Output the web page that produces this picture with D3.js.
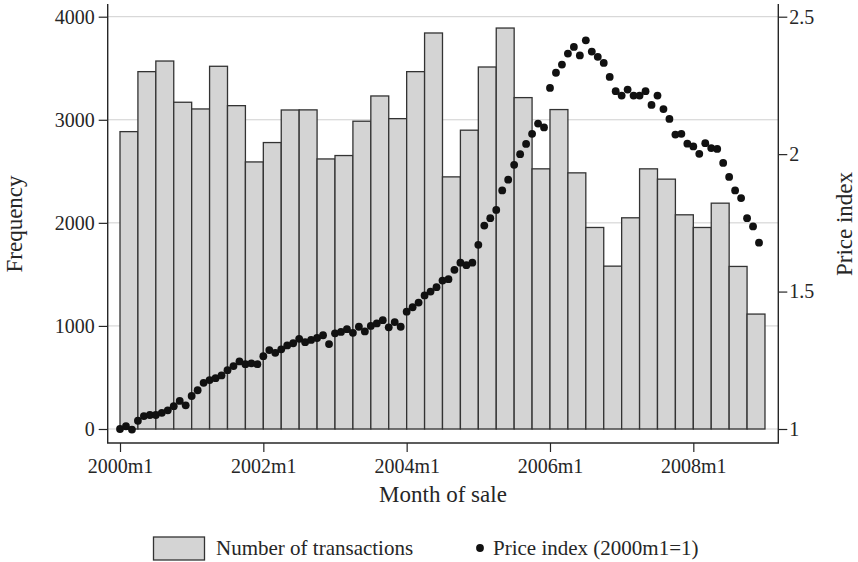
<!DOCTYPE html>
<html>
<head>
<meta charset="utf-8">
<script src="https://cdnjs.cloudflare.com/ajax/libs/d3/7.8.5/d3.min.js"></script>
<style>
  html, body { margin: 0; padding: 0; background: #fff; }
  svg { display: block; font-family: "Liberation Serif", "DejaVu Serif", serif; }
</style>
</head>
<body>
<svg id="chart" width="858" height="562"></svg>
<script>
// ---- Data ----
const quarters = [
  "2000q1","2000q2","2000q3","2000q4","2001q1","2001q2","2001q3","2001q4",
  "2002q1","2002q2","2002q3","2002q4","2003q1","2003q2","2003q3","2003q4",
  "2004q1","2004q2","2004q3","2004q4","2005q1","2005q2","2005q3","2005q4",
  "2006q1","2006q2","2006q3","2006q4","2007q1","2007q2","2007q3","2007q4",
  "2008q1","2008q2","2008q3","2008q4"
];
const transactions = [
  2885, 3467, 3570, 3170, 3105, 3519, 3137, 2591,
  2779, 3095, 3096, 2620, 2653, 2986, 3231, 3011,
  3467, 3842, 2446, 2899, 3512, 3890, 3215, 2524,
  3099, 2485, 1955, 1580, 2049, 2524, 2424, 2078,
  1955, 2191, 1577, 1115
];
// monthly price index, 2000m1 .. 2008m12
const priceIndex = [
  1.000, 1.010, 0.998, 1.030, 1.047, 1.051, 1.051, 1.059, 1.068, 1.083, 1.102, 1.086,
  1.120, 1.141, 1.168, 1.178, 1.185, 1.195, 1.214, 1.229, 1.246, 1.236, 1.239, 1.236,
  1.265, 1.287, 1.277, 1.290, 1.304, 1.312, 1.328, 1.316, 1.324, 1.331, 1.341, 1.309,
  1.348, 1.353, 1.363, 1.350, 1.372, 1.355, 1.375, 1.384, 1.396, 1.370, 1.389, 1.372,
  1.427, 1.443, 1.460, 1.486, 1.500, 1.516, 1.540, 1.545, 1.579, 1.605, 1.596, 1.605,
  1.670, 1.740, 1.767, 1.797, 1.868, 1.907, 1.961, 2.000, 2.037, 2.074, 2.111, 2.097,
  2.241, 2.296, 2.326, 2.366, 2.390, 2.359, 2.414, 2.373, 2.354, 2.332, 2.281, 2.229,
  2.213, 2.235, 2.213, 2.213, 2.229, 2.179, 2.213, 2.164, 2.128, 2.071, 2.074, 2.038,
  2.028, 2.001, 2.040, 2.022, 2.019, 1.968, 1.917, 1.868, 1.840, 1.767, 1.737, 1.678
];
const xTickMonths = [0, 24, 48, 72, 96];
const xTickLabels = ["2000m1", "2002m1", "2004m1", "2006m1", "2008m1"];
const leftTicks = [0, 1000, 2000, 3000, 4000];
const rightTicks = [1, 1.5, 2, 2.5];
const rightTickLabels = ["1", "1.5", "2", "2.5"];

// ---- Layout ----
const svg = d3.select("#chart");
const plotLeft = 107.7, plotRight = 778.3, plotTop = 4, plotBottom = 443;
const x = d3.scaleLinear().domain([-2.06, 110.23]).range([plotLeft, plotRight]);
const yL = d3.scaleLinear().domain([0, 4000]).range([429, 16.7]);
const yR = d3.scaleLinear().domain([1, 2.5]).range([429, 16.7]);

const ink = "#262626";
const barFill = "#d4d4d4";
const gridCol = "#cfcfcf";

// gridlines
svg.append("g").selectAll("line").data(leftTicks).join("line")
  .attr("x1", plotLeft).attr("x2", plotRight)
  .attr("y1", d => yL(d)).attr("y2", d => yL(d))
  .attr("stroke", gridCol).attr("stroke-width", 1);

// bars
svg.append("g").selectAll("rect").data(transactions).join("rect")
  .attr("x", (d, i) => x(3 * i))
  .attr("width", (d, i) => x(3 * i + 3) - x(3 * i))
  .attr("y", d => yL(d))
  .attr("height", d => yL(0) - yL(d))
  .attr("fill", barFill)
  .attr("stroke", "#333")
  .attr("stroke-width", 1.3);

// price dots
svg.append("g").selectAll("circle").data(priceIndex).join("circle")
  .attr("cx", (d, i) => x(i))
  .attr("cy", d => yR(d))
  .attr("r", 3.9)
  .attr("fill", "#111");

// axes
const fontTick = 20;
const leftAxis = d3.axisLeft(yL).tickValues(leftTicks).tickSize(9).tickPadding(4).tickFormat(d3.format("d"));
const gL = svg.append("g").attr("transform", `translate(${plotLeft},0)`).call(leftAxis);
const rightAxis = d3.axisRight(yR).tickValues(rightTicks).tickSize(9).tickPadding(2)
  .tickFormat((d, i) => rightTickLabels[i]);
const gR = svg.append("g").attr("transform", `translate(${plotRight},0)`).call(rightAxis);
const bottomAxis = d3.axisBottom(x).tickValues(xTickMonths).tickSize(9).tickPadding(4)
  .tickFormat((d, i) => xTickLabels[i]);
const gB = svg.append("g").attr("transform", `translate(0,${plotBottom})`).call(bottomAxis);

[gL, gR, gB].forEach(g => {
  g.select(".domain").remove();
  g.selectAll(".tick line").attr("stroke", ink).attr("stroke-width", 1.2);
  g.selectAll(".tick text").attr("fill", ink).style("font-size", fontTick + "px")
    .style("font-family", '"Liberation Serif", serif');
});
gB.selectAll(".tick text").attr("dy", "0.85em");

// axis lines
svg.append("line").attr("x1", plotLeft).attr("x2", plotLeft).attr("y1", plotTop).attr("y2", plotBottom)
  .attr("stroke", ink).attr("stroke-width", 1.4);
svg.append("line").attr("x1", plotRight).attr("x2", plotRight).attr("y1", plotTop).attr("y2", plotBottom)
  .attr("stroke", ink).attr("stroke-width", 1.4);
svg.append("line").attr("x1", plotLeft - 0.7).attr("x2", plotRight + 0.7).attr("y1", plotBottom).attr("y2", plotBottom)
  .attr("stroke", ink).attr("stroke-width", 1.4);

// axis titles
svg.append("text").attr("transform", "translate(22,224) rotate(-90)")
  .attr("text-anchor", "middle").attr("fill", ink).style("font-size", "23px").text("Frequency");
svg.append("text").attr("transform", "translate(852,224) rotate(-90)")
  .attr("text-anchor", "middle").attr("fill", ink).style("font-size", "23px").text("Price index");
svg.append("text").attr("x", (plotLeft + plotRight) / 2).attr("y", 502)
  .attr("text-anchor", "middle").attr("fill", ink).style("font-size", "23px").text("Month of sale");

// legend
const lg = svg.append("g");
lg.append("rect").attr("x", 153.5).attr("y", 537).attr("width", 51).attr("height", 23)
  .attr("fill", barFill).attr("stroke", "#333").attr("stroke-width", 1.3);
lg.append("text").attr("x", 216).attr("y", 555).attr("fill", ink).style("font-size", "21px")
  .text("Number of transactions");
lg.append("circle").attr("cx", 480).attr("cy", 548).attr("r", 3.9).attr("fill", "#111");
lg.append("text").attr("x", 493).attr("y", 555).attr("fill", ink).style("font-size", "21px")
  .text("Price index (2000m1=1)");
</script>
</body>
</html>
